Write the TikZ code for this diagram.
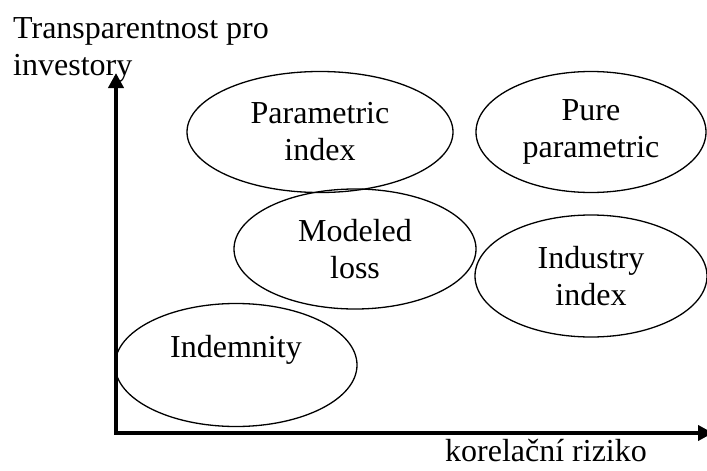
\documentclass[tikz,border=0pt]{standalone}
\usepackage{fontspec}
\setmainfont{Liberation Serif}
\usetikzlibrary{arrows.meta,shapes.geometric}

\begin{document}
\begin{tikzpicture}[x=1pt,y=-1pt,
  every node/.style={font=\fontsize{32}{37}\selectfont,inner sep=0pt},
  oval/.style={draw,ellipse,line width=1.3pt,align=center},
  axis/.style={line width=4.5pt,
    {Triangle[length=15pt,width=15pt]}-{Triangle[length=15pt,width=15pt]}}]
\useasboundingbox (0,0) rectangle (707,471);
\coordinate (O) at (116,433);
\coordinate (ytip) at (116,73);
\coordinate (xtip) at (713,433);
\draw[axis] (ytip) -- (O) -- (xtip);
\node[anchor=north west,align=left] (ylab) at (13,17) {Transparentnost pro\\investory};
\node[anchor=base] (xlab) at (546,461) {korelační riziko};
% ellipses
\node[oval,minimum width=266pt,minimum height=121pt] (parind) at (320,132) {Parametric\\index};
\node[oval,minimum width=230pt,minimum height=121pt] (purepar) at (591,132) {Pure\\parametric};
\node[oval,minimum width=242pt,minimum height=120pt] (modloss) at (355,249) {Modeled\\loss};
\node[oval,minimum width=232pt,minimum height=122pt] (indind) at (591,276) {Industry\\index};
\node[oval,minimum width=242pt,minimum height=123pt] (indem) at (236,365) {Indemnity\\\phantom{x}};
\end{tikzpicture}
\end{document}
